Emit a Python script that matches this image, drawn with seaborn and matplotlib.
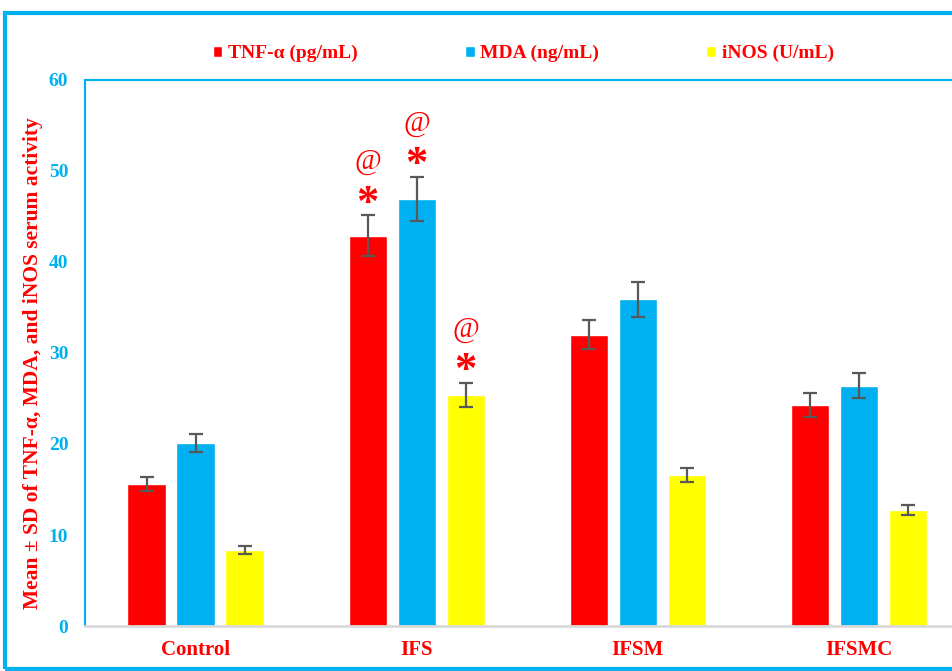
import pandas as pd
import seaborn as sns
import matplotlib.pyplot as plt
from matplotlib.patches import Rectangle

sns.set_style("white")
plt.rcParams['font.family'] = ['Liberation Serif', 'DejaVu Serif']

# data
groups = ["Control", "IFS", "IFSM", "IFSMC"]
markers = ["TNF-α (pg/mL)", "MDA (ng/mL)", "iNOS (U/mL)"]
tnf_mean = [15.6, 42.9, 32.0, 24.3]
tnf_sd = [0.8, 2.2, 1.6, 1.3]
mda_mean = [20.1, 46.9, 35.9, 26.4]
mda_sd = [1.0, 2.4, 1.9, 1.4]
inos_mean = [8.35, 25.4, 16.6, 12.75]
inos_sd = [0.4, 1.3, 0.8, 0.6]
# significance marks (only IFS group)
star_marks = [["", "*", "", ""], ["", "*", "", ""], ["", "*", "", ""]]
at_marks = [["", "@", "", ""], ["", "@", "", ""], ["", "@", "", ""]]

colors = {"TNF-α (pg/mL)": "#FF0000", "MDA (ng/mL)": "#00B0F0", "iNOS (U/mL)": "#FFFF00"}
blue = "#00B0F0"
red = "#FF0000"

means = [tnf_mean, mda_mean, inos_mean]
sds = [tnf_sd, mda_sd, inos_sd]

rows = []
for m, vals in zip(markers, means):
    for g, v in zip(groups, vals):
        rows.append({"Group": g, "Marker": m, "Value": v})
df = pd.DataFrame(rows)

fig = plt.figure(figsize=(9.53, 6.71), dpi=100)
ax = fig.add_axes([0.0892, 0.067, 0.928, 0.814])

sns.barplot(data=df, x="Group", y="Value", hue="Marker", order=groups,
            hue_order=markers, palette=colors, saturation=1, width=0.665,
            gap=0.22, errorbar=None, ax=ax, legend=True)

# error bars and significance marks
bar_conts = list(ax.containers)[:len(markers)]
for i, cont in enumerate(bar_conts):
    xs = [b.get_x() + b.get_width() / 2 for b in cont.patches]
    ax.errorbar(xs, means[i], yerr=sds[i], fmt="none", ecolor="#595959",
                elinewidth=1.6, capsize=5, capthick=1.6, zorder=5)
    for j, x in enumerate(xs):
        top = means[i][j] + sds[i][j]
        if star_marks[i][j]:
            ax.text(x, top + 0.1, star_marks[i][j], color=red, fontsize=32,
                    fontweight="bold", ha="center", va="baseline")
        if at_marks[i][j]:
            ax.text(x, top + 5.1, at_marks[i][j], color=red, fontsize=21,
                    ha="center", va="baseline")

ax.set_ylim(0, 60)
ax.set_xlim(-0.5, 3.5)
ax.set_yticks(range(0, 61, 10))
ax.tick_params(axis="y", colors=blue, labelsize=14, pad=12, length=0)
ax.tick_params(axis="x", colors=red, labelsize=15, pad=10, length=0)
for lab in ax.get_yticklabels():
    lab.set_fontweight("bold")
    lab.set_color(blue)
for lab in ax.get_xticklabels():
    lab.set_fontweight("bold")
    lab.set_color(red)
ax.set_xlabel("")
ax.set_ylabel("Mean ± SD of TNF-α, MDA, and iNOS serum activity", color=red,
              fontsize=15.5, fontweight="bold")
ax.yaxis.set_label_coords(-0.047, 0.482)

for side in ["left", "top", "right"]:
    ax.spines[side].set_color(blue)
    ax.spines[side].set_linewidth(1.5)
ax.spines["bottom"].set_color("#D9D9D9")
ax.spines["bottom"].set_linewidth(2)

# legend on top
handles, labels = ax.get_legend_handles_labels()
if ax.legend_ is not None:
    ax.legend_.remove()
leg = fig.legend(handles, labels, loc="center", bbox_to_anchor=(0.549, 0.92),
                 ncol=3, frameon=False, handlelength=0.5, handleheight=0.5,
                 handletextpad=0.3, columnspacing=5.5,
                 prop={"family": "Liberation Serif", "weight": "bold", "size": 14})
for t in leg.get_texts():
    t.set_color(red)

# outer blue frame
fig.patches.append(Rectangle((5 / 953, 2 / 671), 1.2, 656 / 671, fill=False,
                             edgecolor=blue, linewidth=3,
                             transform=fig.transFigure, figure=fig))

fig.savefig("out.png", dpi=100)
